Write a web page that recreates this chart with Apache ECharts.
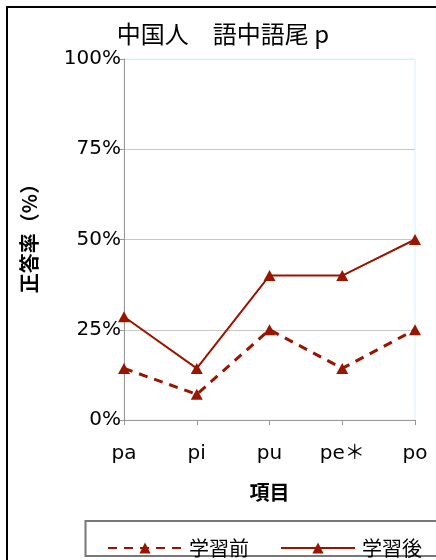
<!DOCTYPE html>
<html>
<head>
<meta charset="utf-8">
<script src="https://cdn.jsdelivr.net/npm/echarts@6/dist/echarts.min.js"></script>
<style>
  html, body { margin: 0; padding: 0; background: #fff; }
  #chart { width: 436px; height: 560px; }
</style>
</head>
<body>
<div id="chart"></div>
<script>
// Correct-answer rate (%) per item, before and after study
const categories = ['pa', 'pi', 'pu', 'pe\uFF0A', 'po'];
const beforeStudy = [14.3, 7.1, 25, 14.3, 25];
const afterStudy = [28.6, 14.3, 40, 40, 50];
const seriesNames = ['学習前', '学習後'];
const yTicks = [0, 25, 50, 75, 100];

const FONT = '"Noto Sans CJK JP", "Noto Sans", sans-serif';
const LABEL_FONT = '"DejaVu Sans", "Noto Sans CJK JP", sans-serif';
const RED = '#981600';

const chart = echarts.init(document.getElementById('chart'), null, { renderer: 'canvas' });

chart.setOption({
  backgroundColor: '#fff',
  animation: false,
  title: {
    text: '中国人　語中語尾 p',
    left: 218,
    textAlign: 'center',
    top: 17,
    textStyle: { fontFamily: FONT, fontSize: 24, fontWeight: 'normal', color: '#000' }
  },
  grid: {
    left: 124, right: 21, top: 59, bottom: 140,
    show: true, borderColor: '#d4f2f6', borderWidth: 1, backgroundColor: '#fff'
  },
  xAxis: {
    type: 'category',
    data: categories,
    boundaryGap: false,
    name: '項目',
    nameLocation: 'middle',
    nameGap: 62,
    nameTextStyle: { fontFamily: FONT, fontSize: 20, fontWeight: 'bold', color: '#000' },
    axisLine: { lineStyle: { color: '#999', width: 1 } },
    axisTick: { show: true, length: 5, lineStyle: { color: '#999' } },
    axisLabel: { fontFamily: LABEL_FONT, fontSize: 20, color: '#000', margin: 24 },
    splitLine: { show: false }
  },
  yAxis: {
    type: 'value',
    min: yTicks[0],
    max: yTicks[yTicks.length - 1],
    interval: 25,
    name: '正答率（%）',
    nameLocation: 'middle',
    nameGap: 85,
    nameRotate: 90,
    nameTextStyle: { fontFamily: FONT, fontSize: 20, fontWeight: 'bold', color: '#000', padding: [0, 0, 0, 12] },
    axisLine: { show: true, lineStyle: { color: '#999', width: 1 } },
    axisTick: { show: true, length: 4, lineStyle: { color: '#999' } },
    axisLabel: { fontFamily: LABEL_FONT, fontSize: 20, color: '#000', margin: 3, formatter: '{value}%' },
    splitLine: { show: true, lineStyle: { color: ['#bbb', '#c8c8c8', '#c8c8c8', '#c8c8c8', '#d4f2f6'], width: 1 } }
  },
  legend: {
    left: 102,
    top: 533,
    itemWidth: 74,
    itemHeight: 14,
    itemGap: 31,
    textStyle: { fontFamily: FONT, fontSize: 20, color: '#000', padding: [0, 0, 0, 2] },
    data: seriesNames
  },
  series: [
    {
      name: seriesNames[0],
      type: 'line',
      data: beforeStudy,
      symbol: 'triangle',
      symbolSize: [12, 11],
      itemStyle: { color: RED },
      lineStyle: { color: RED, width: 3, type: [9, 7] }
    },
    {
      name: seriesNames[1],
      type: 'line',
      data: afterStudy,
      symbol: 'triangle',
      symbolSize: [12, 11],
      itemStyle: { color: RED },
      lineStyle: { color: RED, width: 2, type: 'solid' }
    }
  ],
  graphic: [
    {
      type: 'rect',
      shape: { x: 7, y: 7, width: 460, height: 580 },
      style: { fill: null, stroke: '#000', lineWidth: 2 },
      silent: true, z: -1
    },
    {
      type: 'rect',
      shape: { x: 85.5, y: 521, width: 380, height: 35 },
      style: { fill: null, stroke: '#777', lineWidth: 2 },
      silent: true, z: -1
    }
  ]
});
</script>
</body>
</html>
